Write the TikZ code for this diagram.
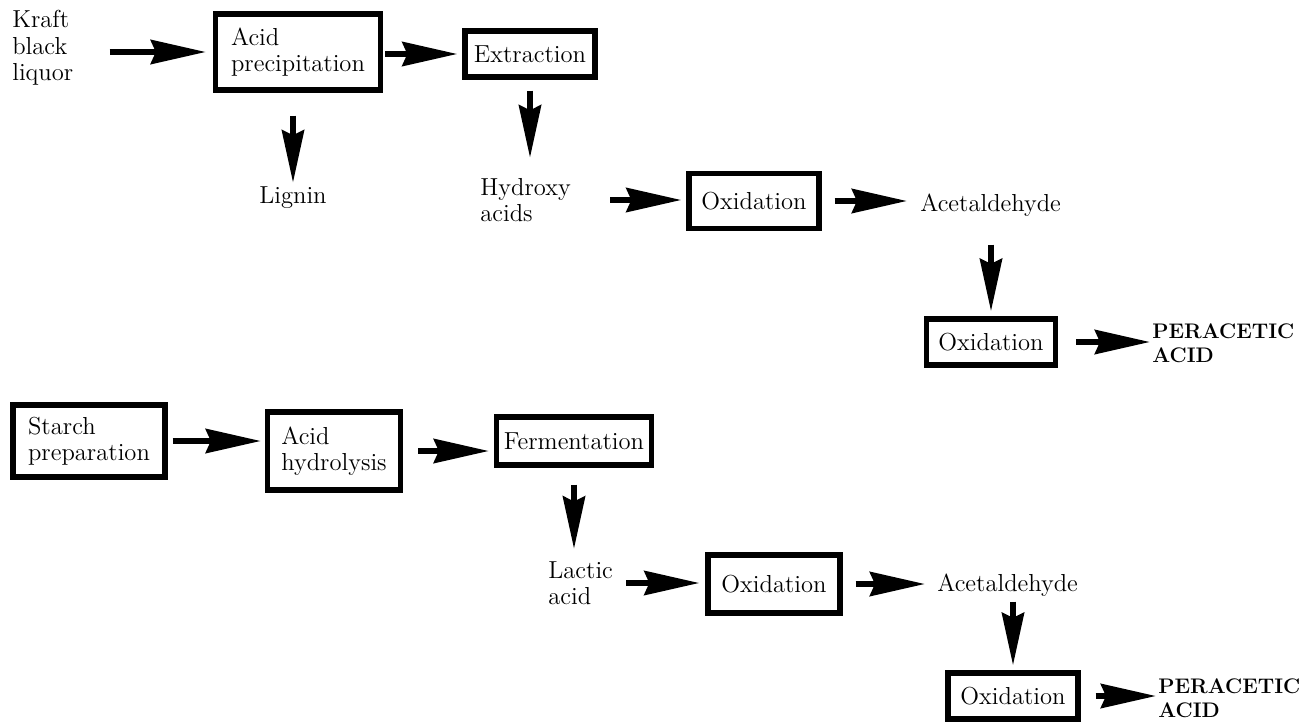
\documentclass[tikz,border=0pt]{standalone}
\usepackage{tikz}
\usetikzlibrary{arrows.meta,calc,positioning}
\begin{document}
\begin{tikzpicture}[x=0.02cm,y=-0.02cm]
            \tikzstyle{block}=[draw,line width=3pt,inner sep=3pt,align=left,font=\fontsize{14}{15}\selectfont]
            \tikzstyle{txt}=[inner sep=0pt,align=left,font=\fontsize{14}{15}\selectfont]
            \tikzstyle{prod}=[inner sep=0pt,align=left,font=\fontsize{12}{13.5}\selectfont\bfseries]
            \tikzstyle{flow}=[line width=3.4pt,-{Stealth[length=1.1cm,width=0.48cm,inset=0.1cm]},shorten <=0.1cm,shorten >=0.1cm]
            \tikzstyle{drop}=[line width=3.4pt,-{Stealth[length=1.05cm,width=0.44cm,inset=0.1cm]},shorten <=0.1cm,shorten >=0.1cm]
            \useasboundingbox (0,0) rectangle (1311,723);
            % kraft route
            \node [txt,anchor=west] (kraft) at (12,48) {Kraft\\black\\liquor};
            \node [block,minimum width=3.3cm,minimum height=1.52cm] (precip) at (298,52) {Acid\\precipitation};
            \node [block,minimum width=2.6cm,minimum height=0.92cm] (extr) at (530,54) {Extraction};
            \node [txt] (lignin) at (293,198) {Lignin};
            \node [txt,anchor=west] (hydroxy) at (480,200) {Hydroxy\\acids};
            \node [block,minimum width=2.6cm,minimum height=1.1cm] (oxa) at (754,201) {Oxidation};
            \node [txt,anchor=west] (aceta) at (920,205) {Acetaldehyde};
            \node [block,minimum width=2.58cm,minimum height=0.92cm] (oxb) at (991,342) {Oxidation};
            \node [prod,anchor=west] (pera) at (1152,343) {PERACETIC\\ACID};
            \draw [flow,shorten <=0.72cm,shorten >=0.14cm] (precip.west -| kraft.east) -- (precip.west);
            \draw [flow,shorten <=0.04cm] (extr.west -| precip.east) -- (extr.west);
            \draw [drop,shorten <=0.46cm,shorten >=0.08cm] (lignin.north |- precip.south) -- (lignin.north);
            \draw [drop,shorten <=0.22cm,shorten >=0.4cm] (extr.south) -- (extr.south |- hydroxy.north);
            \draw [flow,shorten <=0.78cm] (hydroxy.east) -- (hydroxy.east -| oxa.west);
            \draw [flow,shorten <=0.26cm,shorten >=0.26cm] (oxa.east) -- (oxa.east -| aceta.west);
            \draw [drop,shorten <=0.56cm] (oxb.north |- aceta.south) -- (oxb.north);
            \draw [flow,shorten <=0.36cm,shorten >=0.04cm] (oxb.east) -- (oxb.east -| pera.west);
            % starch route
            \node [block,minimum width=3.04cm,minimum height=1.44cm] (starch) at (89,441) {Starch\\preparation};
            \node [block,minimum width=2.66cm,minimum height=1.56cm] (hydro) at (334,451) {Acid\\hydrolysis};
            \node [block,minimum width=3.1cm,minimum height=0.96cm] (ferm) at (574,441) {Fermentation};
            \node [txt,anchor=west] (lactic) at (548,583) {Lactic\\acid};
            \node [block,minimum width=2.64cm,minimum height=1.16cm] (oxc) at (774,584) {Oxidation};
            \node [txt,anchor=west] (acetb) at (937,585) {Acetaldehyde};
            \node [block,minimum width=2.6cm,minimum height=0.92cm] (oxd) at (1013,696) {Oxidation};
            \node [prod,anchor=west] (perb) at (1158,698) {PERACETIC\\ACID};
            \draw [flow,shorten >=0.08cm] (starch.east) -- (starch.east -| hydro.west);
            \draw [flow,shorten <=0.3cm,shorten >=0.1cm] (hydro.east) -- (hydro.east -| ferm.west);
            \draw [drop,shorten <=0.34cm,shorten >=0.24cm] (ferm.south) -- (ferm.south |- lactic.north);
            \draw [flow,shorten <=0.26cm,shorten >=0.12cm] (lactic.east) -- (lactic.east -| oxc.west);
            \draw [flow,shorten <=0.26cm,shorten >=0.24cm] (oxc.east) -- (oxc.east -| acetb.west);
            \draw [drop,shorten <=0.1cm] (oxd.north |- acetb.south) -- (oxd.north);
            \draw [flow,shorten <=0.3cm,shorten >=0.04cm] (oxd.east) -- (oxd.east -| perb.west);
\end{tikzpicture}
\end{document}
